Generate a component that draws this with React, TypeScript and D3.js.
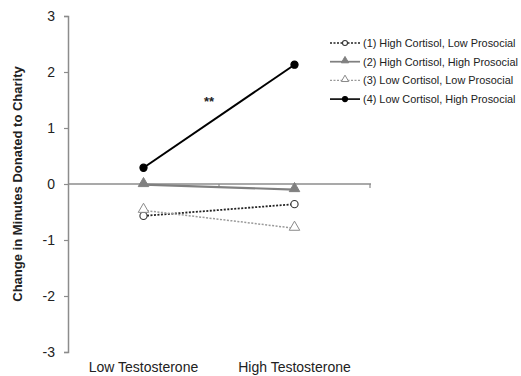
import React, { useRef, useEffect } from 'react';
import * as d3 from 'd3';

// chart data
const categories = ['Low Testosterone', 'High Testosterone'];
const seriesNames = [
  '(1) High Cortisol, Low Prosocial',
  '(2) High Cortisol, High Prosocial',
  '(3) Low Cortisol, Low Prosocial',
  '(4) Low Cortisol, High Prosocial',
];
const highCortLowPro = [-0.57, -0.36];
const highCortHighPro = [-0.01, -0.1];
const lowCortLowPro = [-0.47, -0.79];
const lowCortHighPro = [0.29, 2.13];
const yTicks = [-3, -2, -1, 0, 1, 2, 3];

export default function App() {
  const svgRef = useRef<SVGSVGElement>(null);

  useEffect(() => {
    const width = 521;
    const height = 376;
    const svg = d3.select(svgRef.current)
      .attr('width', width)
      .attr('height', height)
      .style('font-family', 'Arial, "Liberation Sans", sans-serif');
    svg.selectAll('*').remove();

    const x = d3.scaleBand().domain(categories).range([68, 370]);
    const y = d3.scaleLinear().domain([-3, 3]).range([352, 16]);
    const cx = (c: string) => (x(c) as number) + x.bandwidth() / 2;

    // y axis
    const yAxis = d3.axisLeft(y)
      .tickValues(yTicks)
      .tickSize(4)
      .tickPadding(9)
      .tickFormat(d => String(d));
    const gy = svg.append('g').attr('transform', 'translate(68,0)').call(yAxis);
    gy.select('.domain').attr('stroke', '#8c8c8c').attr('stroke-width', 1.5);
    gy.selectAll('.tick line').attr('stroke', '#8c8c8c').attr('stroke-width', 1.2);
    gy.selectAll('.tick text')
      .attr('font-size', 14)
      .attr('fill', '#222')
      .style('font-family', 'Arial, "Liberation Sans", sans-serif');

    // x axis along zero
    const y0 = y(0);
    const gx = svg.append('g');
    gx.append('line')
      .attr('x1', 68).attr('x2', 371)
      .attr('y1', y0).attr('y2', y0)
      .attr('stroke', '#8c8c8c').attr('stroke-width', 1.5);
    categories.forEach(c => {
      const bx = (x(c) as number) + x.bandwidth();
      gx.append('line')
        .attr('x1', bx).attr('x2', bx)
        .attr('y1', y0).attr('y2', y0 + 4)
        .attr('stroke', '#8c8c8c').attr('stroke-width', 1.2);
    });

    // category labels
    svg.append('g').selectAll('text')
      .data(categories)
      .join('text')
      .attr('x', d => cx(d))
      .attr('y', 372)
      .attr('text-anchor', 'middle')
      .attr('font-size', 14)
      .attr('fill', '#222')
      .text(d => d);

    // y title
    svg.append('text')
      .attr('transform', `translate(22,${y0}) rotate(-90)`)
      .attr('text-anchor', 'middle')
      .attr('font-size', 13)
      .attr('font-weight', 'bold')
      .attr('fill', '#222')
      .text('Change in Minutes Donated to Charity');

    const series = [
      { name: seriesNames[0], values: highCortLowPro, stroke: '#222', width: 1.8, dash: '2,1.5', marker: 'circle', fill: '#fff', mstroke: '#333' },
      { name: seriesNames[1], values: highCortHighPro, stroke: '#808080', width: 2.2, dash: null, marker: 'triangle', fill: '#808080', mstroke: '#808080' },
      { name: seriesNames[2], values: lowCortLowPro, stroke: '#9a9a9a', width: 1.5, dash: '2,1.5', marker: 'triangle', fill: '#fff', mstroke: '#8a8a8a' },
      { name: seriesNames[3], values: lowCortHighPro, stroke: '#000', width: 2, dash: null, marker: 'circle', fill: '#000', mstroke: '#000' },
    ];

    const line = d3.line<number>()
      .x((d, i) => cx(categories[i]))
      .y(d => y(d));

    const drawMarker = (g: any, s: any, px: number, py: number, k: number) => {
      if (s.marker === 'circle') {
        g.append('circle')
          .attr('cx', px).attr('cy', py).attr('r', 3.6 * k)
          .attr('fill', s.fill).attr('stroke', s.mstroke).attr('stroke-width', 1.1);
      } else {
        const tri = d3.symbol().type(d3.symbolTriangle).size(48 * k * k);
        g.append('path')
          .attr('d', tri())
          .attr('transform', `translate(${px},${py - 1})`)
          .attr('fill', s.fill).attr('stroke', s.mstroke).attr('stroke-width', 1);
      }
    };

    series.forEach(s => {
      const g = svg.append('g');
      g.append('path')
        .attr('d', line(s.values))
        .attr('fill', 'none')
        .attr('stroke', s.stroke)
        .attr('stroke-width', s.width)
        .attr('stroke-dasharray', s.dash);
      s.values.forEach((v, i) => drawMarker(g, s, cx(categories[i]), y(v), 1));
    });

    // significance mark
    svg.append('text')
      .attr('x', 209).attr('y', 106)
      .attr('text-anchor', 'middle')
      .attr('font-size', 13)
      .attr('font-weight', 'bold')
      .attr('fill', '#222')
      .text('**');

    // legend
    const legend = svg.append('g').attr('transform', 'translate(330,43)');
    series.forEach((s, i) => {
      const g = legend.append('g').attr('transform', `translate(0,${i * 18.7})`);
      g.append('line')
        .attr('x1', 0).attr('x2', 30).attr('y1', 0).attr('y2', 0)
        .attr('stroke', s.stroke)
        .attr('stroke-width', s.width * 0.8)
        .attr('stroke-dasharray', s.dash);
      drawMarker(g, s, 15, 0, 0.7);
      g.append('text')
        .attr('x', 33).attr('y', 4)
        .attr('font-size', 10.9)
        .attr('fill', '#222')
        .text(s.name);
    });
  }, []);

  return (
    <div style={{ position: 'absolute', left: 0, top: 0 }}>
      <svg ref={svgRef}></svg>
    </div>
  );
}
